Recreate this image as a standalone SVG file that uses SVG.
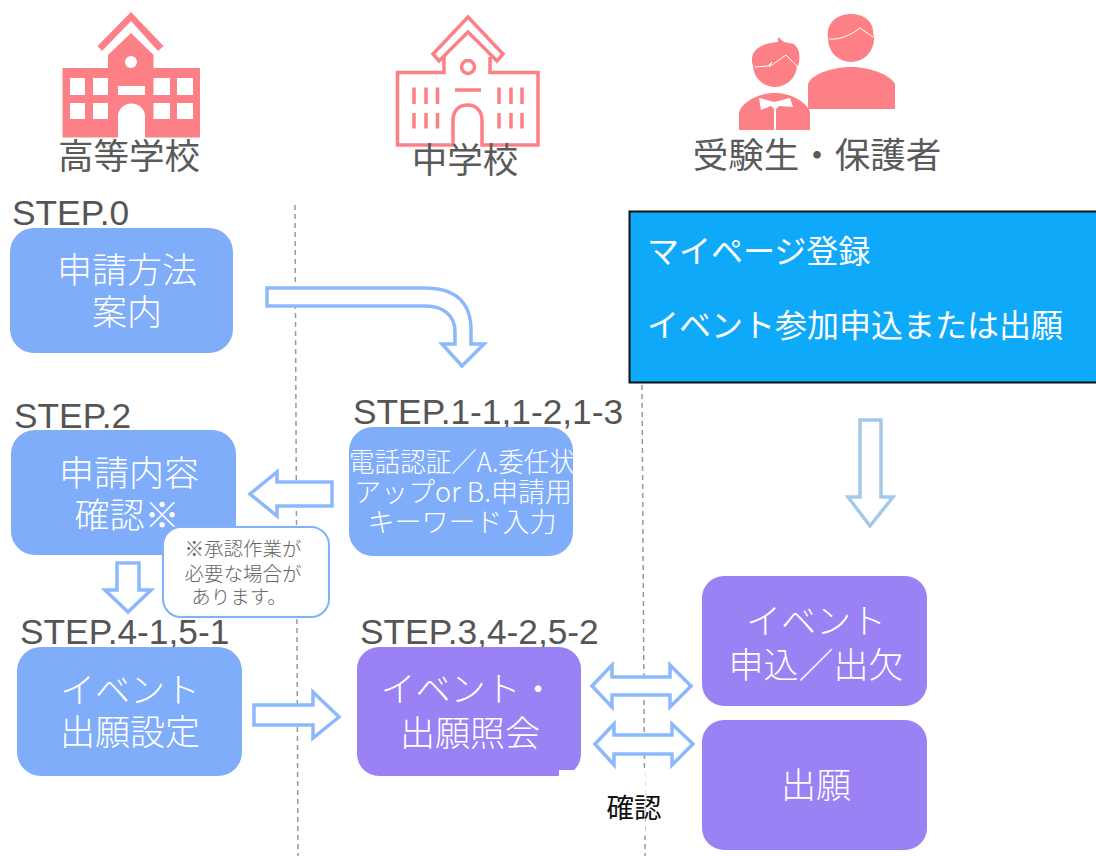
<svg xmlns="http://www.w3.org/2000/svg" width="1096" height="856" viewBox="0 0 1096 856">
<style>
text{font-family:"Noto Sans CJK JP","Noto Sans",sans-serif;text-anchor:middle}
.h{font-size:35.500px;fill:#5a5a5a;font-weight:400}
.st{font-family:"Liberation Sans",Arial,sans-serif;font-size:35.300px;fill:#555;text-anchor:start}
.w{font-size:35px;fill:#fff;font-weight:300}
.s{font-size:27px;fill:#fff;font-weight:300}
.n{font-size:19.500px;fill:#666;font-weight:300}
.p{font-size:32px;fill:#fff;text-anchor:start;font-weight:400}
.blue{fill:#7fadf9}
.vio{fill:#9a82f4}
.ar{fill:#fff;stroke:#8cb9fb;stroke-width:3.500}
.dash{fill:none;stroke:#999;stroke-width:1.500;stroke-dasharray:5 4}
.pink{fill:#fe8087}
.pl{fill:none;stroke:#fe8087;stroke-width:3.500}
</style>

<g id="dividers">
<path class="dash" d="M295 205L298 856"/>
<path class="dash" d="M642 385L645 856"/>
</g>

<g id="icon-high-school">
<path class="pink" fill-rule="evenodd" d="M62.500 68H108V55L131 33L153.500 55V68H200V137.500H145V116A13.500 12.500 0 0 0 118 116V137.500H62.500Z M70 78V95H85V78Z M93 78V95H108V78Z M153.500 78V95H170V78Z M177 78V95H193V78Z M70 103V119H85V103Z M93 103V119H108V103Z M153.500 103V119H170V103Z M177 103V119H193V103Z M118 86V95H145V86Z"/>
<circle cx="131" cy="62" r="6" fill="#fff"/>
<path class="pink" d="M131 12L163.500 46L158 51L131 21L102 51L97.500 46Z"/>
<text class="h" x="129" y="169">高等学校</text>
</g>

<g id="icon-middle-school">
<path class="pl" d="M468 17L503 54L497 61L468 32L439 61L433 54Z"/>
<path class="pl" d="M444 57V72.500H397.500V145H453V120C453 110 460 105 467.500 105C475 105 482 110 482 120V145H538V72.500H490V57"/>
<circle class="pl" cx="468" cy="67" r="6.500"/>
<path class="pl" d="M414 87.500V104M426 87.500V104M437.500 87.500V104M499 87.500V104M511 87.500V104M522 87.500V104M414 113V128.500M426 113V128.500M437.500 113V128.500M499 113V128.500M511 113V128.500M522 113V128.500M455 90H481"/>
<text class="h" x="465" y="173">中学校</text>
</g>

<g id="icon-guardians">
<circle class="pink" cx="851" cy="39" r="23"/>
<path class="pink" d="M828 38C826 22 838 14 851 14C866 14 875 24 873 36L861 28L848 36Z"/>
<path d="M829 39C838 40 850 36 860 28L873 37" fill="none" stroke="#fff" stroke-width="1"/>
<path class="pink" d="M808 109V84C812 73 835 67 851 67C868 67 890 74 895 84V109Z"/>
<circle class="pink" cx="775" cy="65" r="22"/>
<path class="pink" d="M753 66C748 52 760 43 778 42L778 37L784 42L794 44C801 50 800 60 798 66L786 55L770 66Z"/>
<path d="M755 67L768 66L772 62L769 67L786 55L797 66" fill="none" stroke="#fff" stroke-width="1"/>
<path class="pink" d="M739 130V112C743 101 760 93 775 93C790 93 806 101 810 112V130Z"/>
<path d="M759 98L774 102L790 98L793 107L779 106L775 110L771 106L761 110Z" fill="#fff"/>
<path d="M775 104V130" stroke="#fff" stroke-width="2"/>
<text class="h" x="817" y="168">受験生・保護者</text>
</g>

<g id="connectors">
<path class="ar" d="M267 288H425C455 288 471 302 471 330V344H484L462 366L442 344H455V332C455 315 443 306 425 306H267Z"/>
<path class="ar" d="M332 482H277V472L250 494L277 516V506H332Z"/>
<path class="ar" d="M117 563H139V590H151L128 612L105 590H117Z"/>
<path class="ar" d="M254 705H313V692L339 717L313 738V725H254Z"/>
<path class="ar" d="M592 686L612 665V677H670V665L691 686L670 707V695H612V707Z"/>
<path class="ar" d="M595 744L614 724V735H672V724L693 744L672 765V754H614V765Z"/>
<path d="M860 420H881V497H893L870 526L848 497H860Z" fill="#fff" stroke="#a3c9ea" stroke-width="3.500"/>
</g>

<g id="node-step0">
<text class="st" x="12" y="225">STEP.0</text>
<rect class="blue" x="10" y="228" width="223" height="125" rx="24"/>
<text class="w" x="127" y="283">申請方法</text>
<text class="w" x="127" y="325">案内</text>
</g>

<g id="node-step2">
<text class="st" x="14" y="428">STEP.2</text>
<rect class="blue" x="11" y="430" width="225" height="125" rx="24"/>
<text class="w" x="129" y="486">申請内容</text>
<text class="w" x="127" y="528">確認※</text>
</g>

<g id="node-step1">
<text class="st" x="353" y="424">STEP.1-1,1-2,1-3</text>
<rect class="blue" x="349" y="427" width="224" height="129" rx="24"/>
<text class="s" x="462" y="472" textLength="226" lengthAdjust="spacingAndGlyphs">電話認証／A.委任状</text>
<text class="s" x="463" y="502">アップor B.申請用</text>
<text class="s" x="462" y="532">キーワード入力</text>
</g>

<g id="node-step4">
<text class="st" x="20" y="644">STEP.4-1,5-1</text>
<rect class="blue" x="17" y="647" width="225" height="129" rx="24"/>
<text class="w" x="130" y="703">イベント</text>
<text class="w" x="130" y="745">出願設定</text>
</g>

<g id="node-step3">
<text class="st" x="360" y="644">STEP.3,4-2,5-2</text>
<rect class="vio" x="357" y="647" width="224" height="129" rx="22"/>
<text class="w" x="468" y="702">イベント・</text>
<text class="w" x="470" y="746">出願照会</text>
</g>

<path d="M559 770H645V836H559Z" fill="#fff"/>

<g id="node-note">
<rect x="163" y="527" width="166" height="90" rx="18" fill="#fff" stroke="#7fb2fb" stroke-width="2"/>
<text class="n" x="243" y="556">※承認作業が</text>
<text class="n" x="243" y="581">必要な場合が</text>
<text class="n" x="239" y="604">あります。</text>
</g>

<g id="node-register">
<rect x="629.500" y="211.500" width="468" height="171" fill="#0ea9f9" stroke="#111" stroke-width="2"/>
<text class="p" x="647" y="263">マイページ登録</text>
<text class="p" x="647" y="337">イベント参加申込または出願</text>
</g>

<g id="node-event">
<rect class="vio" x="702" y="576" width="225" height="130" rx="22"/>
<text class="w" x="816" y="634">イベント</text>
<text class="w" x="816" y="678">申込／出欠</text>
</g>

<g id="node-apply">
<rect class="vio" x="702" y="720" width="225" height="130" rx="22"/>
<text class="w" x="816" y="798">出願</text>
</g>

<g id="label-confirm">
<text x="634" y="818" style="font-size:27.500px;fill:#111;font-weight:400">確認</text>
</g>
</svg>
